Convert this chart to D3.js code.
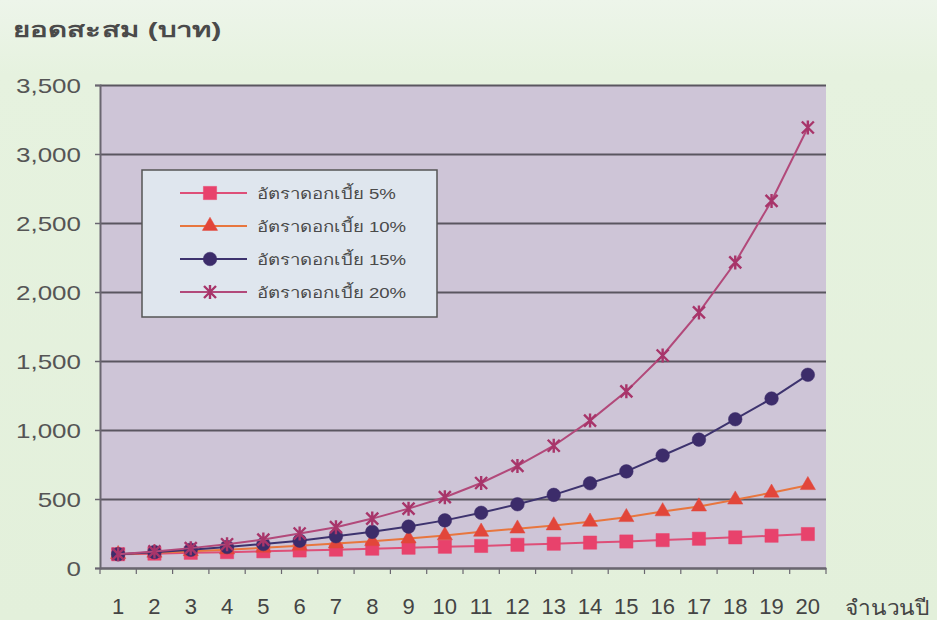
<!DOCTYPE html>
<html>
<head>
<meta charset="utf-8">
<script src="https://cdn.jsdelivr.net/npm/d3@7"></script>
<style>
  html, body { margin: 0; padding: 0; background: #e5f1de; }
  svg { display: block; }
  text { font-family: "Liberation Sans", Arial, sans-serif; }
</style>
</head>
<body>
<svg id="chart" width="937" height="620"></svg>
<script>
// Accumulated amount (baht) of 100 baht at four interest rates, years 1–20
const years = ["1","2","3","4","5","6","7","8","9","10","11","12","13","14","15","16","17","18","19","20"];
const rate5  = [100,104,110,115,121,127,133,140,147,154,160,168,176,184,192,202,212,222,234,246];
const rate10 = [100,110,121,133,146,161,177,194,213,236,262,285,308,335,368,410,445,495,545,600];
const rate15 = [100,115,132,152,174,198,230,262,300,345,400,462,530,614,700,815,930,1078,1228,1400];
const rate20 = [100,120,144,172,206,250,296,358,430,513,616,740,886,1068,1280,1540,1852,2214,2660,3192];
const seriesLabels = ["อัตราดอกเบี้ย 5%","อัตราดอกเบี้ย 10%","อัตราดอกเบี้ย 15%","อัตราดอกเบี้ย 20%"];
const yTicks = [0,500,1000,1500,2000,2500,3000,3500];
const yTitle = "ยอดสะสม (บาท)";
const xTitle = "จำนวนปี";

const series = [
  { label: seriesLabels[0], values: rate5,  line: "#de4f78", fill: "#e8426c", shape: "square" },
  { label: seriesLabels[1], values: rate10, line: "#e8763e", fill: "#e2463a", shape: "triangle" },
  { label: seriesLabels[2], values: rate15, line: "#3d336e", fill: "#3c2c6a", shape: "circle" },
  { label: seriesLabels[3], values: rate20, line: "#b2497a", fill: "#a8356a", shape: "star" }
];

const svg = d3.select("#chart");
const plot = { left: 100, right: 826, top: 85, bottom: 568 };

const x = d3.scaleBand().domain(years).range([plot.left, plot.right]);
const y = d3.scaleLinear().domain([0, 3500]).range([plot.bottom, plot.top]);

// light top band of the page background
const bg = svg.append("defs").append("linearGradient")
  .attr("id", "pagebg").attr("x1", 0).attr("y1", 0).attr("x2", 0).attr("y2", 1);
bg.append("stop").attr("offset", "0").attr("stop-color", "#edf5ea");
bg.append("stop").attr("offset", "0.12").attr("stop-color", "#e6f2df");
bg.append("stop").attr("offset", "1").attr("stop-color", "#e3f0db");
svg.append("rect").attr("width", 937).attr("height", 620).attr("fill", "url(#pagebg)");

// plot area
svg.append("rect")
  .attr("x", plot.left).attr("y", plot.top)
  .attr("width", plot.right - plot.left).attr("height", plot.bottom - plot.top)
  .attr("fill", "#cec5d7");

// horizontal gridlines
const grid = svg.append("g")
  .attr("transform", `translate(${plot.left},0)`)
  .call(d3.axisLeft(y).tickValues(yTicks).tickSize(-(plot.right - plot.left)).tickFormat(""));
grid.select(".domain").remove();
grid.selectAll(".tick line").attr("stroke", "#5a5660").attr("stroke-width", 2);

// y axis with wide-set labels
const yStretch = 1.3;
const yAxis = svg.append("g")
  .attr("transform", `translate(${plot.left},0)`)
  .call(d3.axisLeft(y).tickValues(yTicks).tickSize(5).tickFormat(d3.format(",")));
yAxis.select(".domain").attr("stroke", "#6a6670").attr("stroke-width", 2);
yAxis.selectAll(".tick line").attr("stroke", "#6a6670").attr("stroke-width", 1.5);
yAxis.selectAll(".tick text")
  .attr("fill", "#555")
  .attr("font-size", 20)
  .attr("x", -19 / yStretch)
  .attr("dy", "0.36em")
  .attr("transform", `scale(${yStretch},1)`);

// x axis: labels centered in each band, tick marks on band edges
const xAxis = svg.append("g")
  .attr("transform", `translate(0,${plot.bottom})`)
  .call(d3.axisBottom(x).tickSize(0).tickPadding(30));
xAxis.select(".domain").attr("stroke", "#6a6670").attr("stroke-width", 2);
xAxis.selectAll(".tick text")
  .attr("fill", "#444")
  .attr("font-size", 22);
const edges = [plot.left].concat(years.map(d => x(d) + x.bandwidth()));
svg.append("g").selectAll("line").data(edges).join("line")
  .attr("x1", d => d).attr("x2", d => d)
  .attr("y1", plot.bottom).attr("y2", plot.bottom + 6)
  .attr("stroke", "#6a6670").attr("stroke-width", 1.2);

// marker shapes
function markerPath(shape) {
  if (shape === "square") return d3.symbol(d3.symbolSquare, 175)();
  if (shape === "triangle") return d3.symbol(d3.symbolTriangle, 100)();
  if (shape === "circle") return d3.symbol(d3.symbolCircle, 145)();
  return "M-6,-6L6,6M-6,6L6,-6M0,-7L0,7";
}
function drawMarker(sel, s) {
  if (s.shape === "star") {
    sel.attr("d", markerPath(s.shape)).attr("fill", "none")
      .attr("stroke", s.fill).attr("stroke-width", 2.4);
  } else {
    sel.attr("d", markerPath(s.shape)).attr("fill", s.fill)
      .attr("stroke", s.fill).attr("stroke-width", 0.5);
  }
}

const line = d3.line()
  .x((d, i) => x(years[i]) + x.bandwidth() / 2)
  .y(d => y(d));

series.forEach(s => {
  const g = svg.append("g");
  g.append("path").datum(s.values)
    .attr("d", line).attr("fill", "none")
    .attr("stroke", s.line).attr("stroke-width", 2);
  g.selectAll("path.mk").data(s.values).join("path")
    .attr("class", "mk")
    .attr("transform", (d, i) => `translate(${x(years[i]) + x.bandwidth() / 2},${y(d)})`)
    .call(sel => drawMarker(sel, s));
});

// legend
const legend = svg.append("g");
legend.append("rect")
  .attr("x", 142).attr("y", 170).attr("width", 295).attr("height", 147)
  .attr("fill", "#dfe6ee").attr("stroke", "#555").attr("stroke-width", 1.5);
const rowY = [193, 226, 259, 292];
series.forEach((s, i) => {
  const row = legend.append("g").attr("transform", `translate(0,${rowY[i]})`);
  row.append("line").attr("x1", 180).attr("x2", 247).attr("y1", 0).attr("y2", 0)
    .attr("stroke", s.line).attr("stroke-width", 2);
  row.append("path").attr("transform", "translate(210,0)").call(sel => drawMarker(sel, s));
  row.append("text").attr("transform", "translate(257,6) scale(1.24,1)")
    .attr("font-size", 15).attr("fill", "#4a4a4a")
    .text(s.label);
});

// axis titles
svg.append("text").attr("transform", "translate(13,37) scale(1.4,1)")
  .attr("font-size", 21).attr("font-weight", "bold").attr("fill", "#4a4a4a")
  .text(yTitle);
svg.append("text").attr("transform", "translate(845,615) scale(1.08,1)")
  .attr("font-size", 21).attr("fill", "#444")
  .text(xTitle);
</script>
</body>
</html>
